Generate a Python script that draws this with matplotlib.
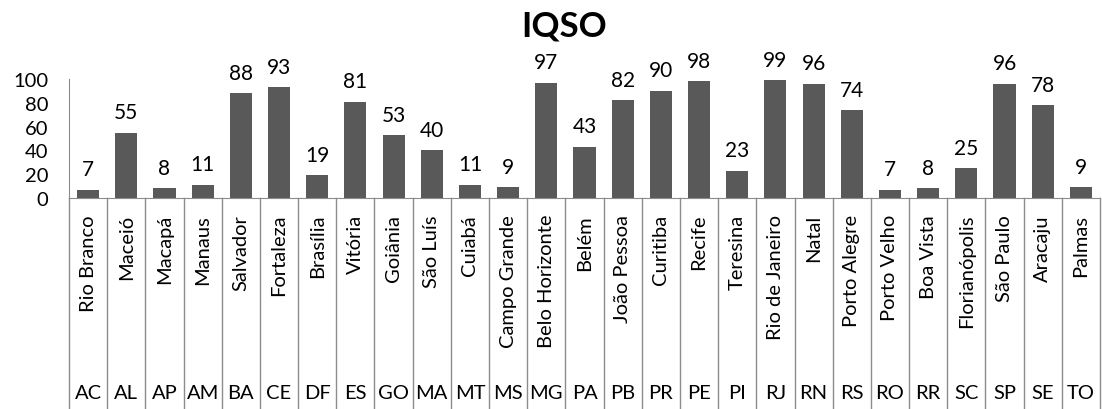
import matplotlib.pyplot as plt
from matplotlib.transforms import blended_transform_factory

# City (capital) names, their state codes and IQSO values
cities = ["Rio Branco", "Maceió", "Macapá", "Manaus", "Salvador", "Fortaleza",
          "Brasília", "Vitória", "Goiânia", "São Luís", "Cuiabá", "Campo Grande",
          "Belo Horizonte", "Belém", "João Pessoa", "Curitiba", "Recife", "Teresina",
          "Rio de Janeiro", "Natal", "Porto Alegre", "Porto Velho", "Boa Vista",
          "Florianópolis", "São Paulo", "Aracaju", "Palmas"]
states = ["AC", "AL", "AP", "AM", "BA", "CE", "DF", "ES", "GO", "MA", "MT", "MS",
          "MG", "PA", "PB", "PR", "PE", "PI", "RJ", "RN", "RS", "RO", "RR", "SC",
          "SP", "SE", "TO"]
iqso = [7, 55, 8, 11, 88, 93, 19, 81, 53, 40, 11, 9, 97, 43, 82, 90, 98, 23,
        99, 96, 74, 7, 8, 25, 96, 78, 9]

plt.rcParams["font.family"] = ["Lato", "DejaVu Sans"]
line_col = "#8c8c8c"

fig = plt.figure(figsize=(11.02, 4.10), dpi=100)
ax = fig.add_axes([69 / 1102, 211 / 410, 1031 / 1102, 119 / 410])

x = range(len(iqso))
ax.bar(x, iqso, width=0.58, color="#595959")
ax.set_xlim(-0.5, len(iqso) - 0.5)
ax.set_ylim(0, 100)
ax.set_yticks(range(0, 101, 20))
ax.tick_params(axis="y", length=0, labelsize=14.5, pad=15)
ax.set_xticks([])

for side in ["top", "right"]:
    ax.spines[side].set_visible(False)
ax.spines["left"].set_color(line_col)
ax.spines["bottom"].set_color(line_col)

# value labels above bars
for xi, v in zip(x, iqso):
    ax.annotate(str(v), (xi, v), xytext=(0, 7.5), textcoords="offset points",
                ha="center", va="bottom", fontsize=15, annotation_clip=False)

# two-level category axis drawn below the plot
trans = blended_transform_factory(ax.transData, fig.transFigure)
bottom = 211 / 410
for i in range(len(iqso) + 1):
    ax.plot([i - 0.5, i - 0.5], [0, bottom], transform=trans, color=line_col,
            lw=1, clip_on=False)
for xi, city, st in zip(x, cities, states):
    ax.text(xi, 195 / 410, city, transform=trans, rotation=90, ha="center",
            va="top", fontsize=14.5)
    ax.text(xi, 16 / 410, st, transform=trans, ha="center", va="center",
            fontsize=14.5)

fig.text(564 / 1102, 0.935, "IQSO", ha="center", va="center",
         fontsize=25, fontweight="bold")

fig.savefig("out.png", dpi=100)
